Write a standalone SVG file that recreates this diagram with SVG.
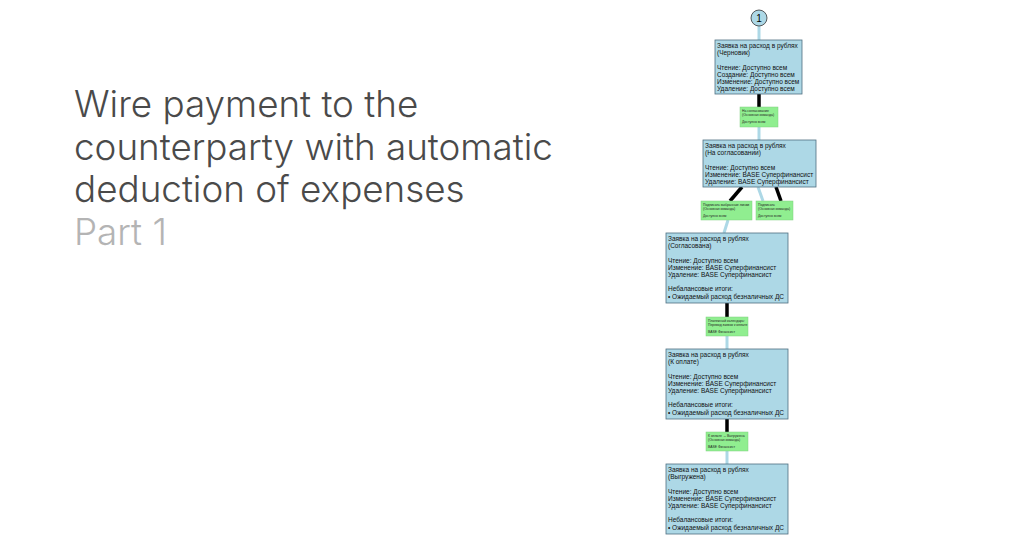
<svg xmlns="http://www.w3.org/2000/svg" width="1020" height="550" viewBox="0 0 1020 550">
<style>
.title{font-family:Inter,"Liberation Sans",sans-serif;font-weight:300;font-size:36.8px;fill:#4a4a4a}
.sub{font-family:Inter,"Liberation Sans",sans-serif;font-weight:300;font-size:36.8px;fill:#b4b4b4}
.state{fill:#add8e6;stroke:#4f6f80;stroke-width:0.8}
.cmd{fill:#90ee90;stroke:#7fd07f;stroke-width:0.5}
.st{font-family:"Liberation Sans",Arial,sans-serif;font-size:6.5px;fill:#111}
.ct{font-family:"Liberation Sans",Arial,sans-serif;font-size:3.4px;fill:#222}
.in{stroke:#000;stroke-width:3.5;fill:none}
.out{stroke:#add8e6;stroke-width:3;fill:none}
</style>
<rect width="1020" height="550" fill="#fff"/>
<g id="title">
<text class="title" x="74" y="117">Wire payment to the</text>
<text class="title" x="74" y="160">counterparty with automatic</text>
<text class="title" x="74" y="202">deduction of expenses</text>
<text class="sub" x="74" y="245">Part 1</text>
</g>
<g id="connectors">
<line class="out" x1="759" y1="26" x2="759" y2="40"/>
<line class="in" x1="759" y1="94" x2="759" y2="107"/>
<line class="out" x1="759" y1="127" x2="759" y2="140"/>
<line class="in" x1="742" y1="187" x2="730" y2="201"/>
<line class="in" x1="776" y1="187" x2="781" y2="201"/>
<line class="out" x1="763" y1="201" x2="758" y2="187"/>
<line class="out" x1="728" y1="220" x2="724" y2="233"/>
<line class="in" x1="727" y1="303" x2="727" y2="317"/>
<line class="out" x1="727" y1="336" x2="727" y2="349"/>
<line class="in" x1="727" y1="419" x2="727" y2="432"/>
<line class="out" x1="727" y1="451" x2="727" y2="464"/>
</g>
<g id="start">
<circle cx="759" cy="18" r="8" fill="#add8e6" stroke="#333" stroke-width="0.8"/>
<text x="759" y="21.5" text-anchor="middle" font-family="Liberation Sans,Arial,sans-serif" font-size="10" fill="#000">1</text>
</g>
<g id="s-draft">
<rect class="state" x="715" y="40" width="87" height="54"/>
<text class="st" x="717" y="48">Заявка на расход в рублях</text>
<text class="st" x="717" y="55.2">(Черновик)</text>
<text class="st" x="717" y="69.6">Чтение: Доступно всем</text>
<text class="st" x="717" y="76.8">Создание: Доступно всем</text>
<text class="st" x="717" y="84">Изменение: Доступно всем</text>
<text class="st" x="717" y="91.2">Удаление: Доступно всем</text>
</g>
<g id="c-submit">
<rect class="cmd" x="740" y="107" width="38" height="20"/>
<text class="ct" x="742" y="112">На согласование</text>
<text class="ct" x="742" y="116">(Основная команда)</text>
<text class="ct" x="742" y="123">Доступно всем</text>
</g>
<g id="s-approval">
<rect class="state" x="703" y="140" width="113" height="47"/>
<text class="st" x="705" y="148">Заявка на расход в рублях</text>
<text class="st" x="705" y="155.2">(На согласовании)</text>
<text class="st" x="705" y="169.6">Чтение: Доступно всем</text>
<text class="st" x="705" y="176.8">Изменение: BASE Суперфинансист</text>
<text class="st" x="705" y="184">Удаление: BASE Суперфинансист</text>
</g>
<g id="c-sign-lines">
<rect class="cmd" x="701" y="201" width="51" height="19"/>
<text class="ct" x="703" y="206">Подписать выбранные линии</text>
<text class="ct" x="703" y="210">(Основная команда)</text>
<text class="ct" x="703" y="217">Доступно всем</text>
</g>
<g id="c-sign">
<rect class="cmd" x="756" y="201" width="37" height="19"/>
<text class="ct" x="758" y="206">Подписать</text>
<text class="ct" x="758" y="210">(Основная команда)</text>
<text class="ct" x="758" y="217">Доступно всем</text>
</g>
<g id="s-approved">
<rect class="state" x="666" y="233" width="122" height="70"/>
<text class="st" x="668" y="241">Заявка на расход в рублях</text>
<text class="st" x="668" y="248.2">(Согласована)</text>
<text class="st" x="668" y="262.6">Чтение: Доступно всем</text>
<text class="st" x="668" y="269.8">Изменение: BASE Суперфинансист</text>
<text class="st" x="668" y="277">Удаление: BASE Суперфинансист</text>
<text class="st" x="668" y="291.4">Небалансовые итоги:</text>
<text class="st" x="668" y="298.6">• Ожидаемый расход безналичных ДС</text>
</g>
<g id="c-calendar">
<rect class="cmd" x="706" y="317" width="42" height="19"/>
<text class="ct" x="708" y="322">Платежный календарь:</text>
<text class="ct" x="708" y="326">Перевод заявок к оплате</text>
<text class="ct" x="708" y="333">BASE Финансист</text>
</g>
<g id="s-topay">
<rect class="state" x="666" y="349" width="122" height="70"/>
<text class="st" x="668" y="357">Заявка на расход в рублях</text>
<text class="st" x="668" y="364.2">(К оплате)</text>
<text class="st" x="668" y="378.6">Чтение: Доступно всем</text>
<text class="st" x="668" y="385.8">Изменение: BASE Суперфинансист</text>
<text class="st" x="668" y="393">Удаление: BASE Суперфинансист</text>
<text class="st" x="668" y="407.4">Небалансовые итоги:</text>
<text class="st" x="668" y="414.6">• Ожидаемый расход безналичных ДС</text>
</g>
<g id="c-export">
<rect class="cmd" x="706" y="432" width="42" height="19"/>
<text class="ct" x="708" y="437">К оплате → Выгружена</text>
<text class="ct" x="708" y="441">(Основная команда)</text>
<text class="ct" x="708" y="448">BASE Финансист</text>
</g>
<g id="s-exported">
<rect class="state" x="666" y="464" width="122" height="70"/>
<text class="st" x="668" y="472">Заявка на расход в рублях</text>
<text class="st" x="668" y="479.2">(Выгружена)</text>
<text class="st" x="668" y="493.6">Чтение: Доступно всем</text>
<text class="st" x="668" y="500.8">Изменение: BASE Суперфинансист</text>
<text class="st" x="668" y="508">Удаление: BASE Суперфинансист</text>
<text class="st" x="668" y="522.4">Небалансовые итоги:</text>
<text class="st" x="668" y="529.6">• Ожидаемый расход безналичных ДС</text>
</g>
</svg>
